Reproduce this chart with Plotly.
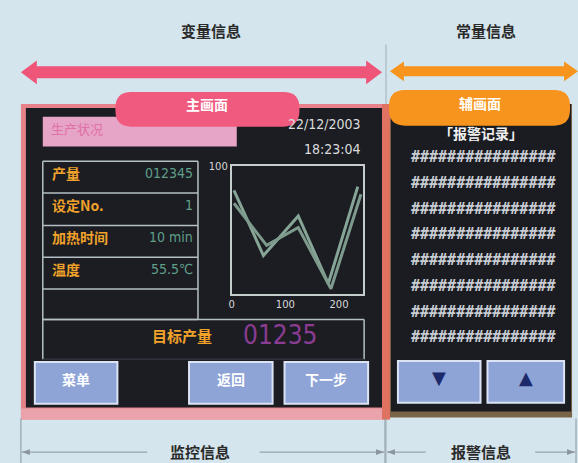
import plotly.graph_objects as go

# ---------------- data ----------------
trend_x_a = [4, 59, 124, 180, 235]
trend_y_a = [81, 30, 61, 8, 84]
trend_x_b = [4, 65, 124, 185, 241]
trend_y_b = [71, 38, 52, 4, 78]
trend_xticks = [0, 100, 200]
trend_yticks = [100]

field_labels = ["产量", "设定No.", "加热时间", "温度"]
field_values = ["012345", "1", "10 min", "55.5℃"]
target_label = "目标产量"
target_value = "01235"
main_buttons = ["菜单", "返回", "下一步"]
alarm_title = "「报警记录」"
alarm_rows = ["################"] * 8
alarm_buttons = ["▼", "▲"]
top_labels = ["变量信息", "常量信息"]
bottom_labels = ["监控信息", "报警信息"]
screen_labels = ["主画面", "辅画面"]
status_label = "生产状况"
date_text = "22/12/2003"
time_text = "18:23:04"

W, H = 578, 463
BG = "#d5e5ed"
FONT = "Noto Sans CJK SC"
TEXT_DY = -4

fig = go.Figure()
fig.add_trace(go.Scatter(x=[], y=[], xaxis="x", yaxis="y", showlegend=False))

# mini trend chart traces
fig.add_trace(go.Scatter(x=trend_x_a, y=trend_y_a, mode="lines", xaxis="x2", yaxis="y2",
                         line=dict(color="#86a596", width=3), showlegend=False, hoverinfo="skip"))
fig.add_trace(go.Scatter(x=trend_x_b, y=trend_y_b, mode="lines", xaxis="x2", yaxis="y2",
                         line=dict(color="#7d9a8c", width=3), showlegend=False, hoverinfo="skip"))

shapes = []
ann = []


def rect(x0, y0, x1, y1, fill, line_color=None, lw=0):
    shapes.append(dict(type="rect", xref="x", yref="y", x0=x0, y0=y0, x1=x1, y1=y1,
                       fillcolor=fill, line=dict(color=line_color or fill, width=lw),
                       layer="below"))


def line(x0, y0, x1, y1, color, lw=1.5):
    shapes.append(dict(type="line", xref="x", yref="y", x0=x0, y0=y0, x1=x1, y1=y1,
                       line=dict(color=color, width=lw), layer="below"))


def path(d, fill, line_color=None, lw=0):
    shapes.append(dict(type="path", xref="x", yref="y", path=d, fillcolor=fill,
                       line=dict(color=line_color or fill, width=lw), layer="below"))


def rrect(x0, y0, x1, y1, r):
    return (f"M{x0+r},{y0} L{x1-r},{y0} Q{x1},{y0} {x1},{y0+r} L{x1},{y1-r} "
            f"Q{x1},{y1} {x1-r},{y1} L{x0+r},{y1} Q{x0},{y1} {x0},{y1-r} "
            f"L{x0},{y0+r} Q{x0},{y0} {x0+r},{y0} Z")


def text(x, y, s, size, color, xanchor="center", bold=True, family=FONT):
    ann.append(dict(x=x, y=y + TEXT_DY, xref="x", yref="y", text=f"<b>{s}</b>" if bold else s,
                    showarrow=False, xanchor=xanchor, yanchor="middle",
                    font=dict(size=size, color=color, family=family)))


def darrow(x0, x1, yc, half, head_half, head_len, color):
    d = (f"M{x0},{yc} L{x0+head_len},{yc-head_half} L{x0+head_len},{yc-half} "
         f"L{x1-head_len},{yc-half} L{x1-head_len},{yc-head_half} L{x1},{yc} "
         f"L{x1-head_len},{yc+head_half} L{x1-head_len},{yc+half} L{x0+head_len},{yc+half} "
         f"L{x0+head_len},{yc+head_half} Z")
    path(d, color)


# divider line
line(385, 40, 385, 463, "#9fb0b8", 1)

# top arrows and labels
darrow(18, 381, 68, 6, 12, 16, "#ee5579")
darrow(389, 578, 67, 5, 10, 14, "#f7941d")
text(209, 30, top_labels[0], 15, "#2a2a2a")
text(486, 30, top_labels[1], 15, "#2a2a2a")

# left panel
rect(18, 100, 389, 419, "#e8828a")
rect(18, 408, 382, 419, "#eaa3ac")
rect(23, 104, 381, 407, "#1b1d23")
rect(381, 100, 389, 419, "#e07262")

# right panel
rect(389, 100, 572, 417, "#7a6448")
rect(390, 100, 571, 411, "#1a1c22")

# status bar
rect(40, 113, 235, 143, "#e6a4c6")
text(46, 129, status_label, 13, "#e070a8", xanchor="left", bold=False)

# pills
path(rrect(113, 88, 298, 123, 16), "#ef5a7e")
text(205, 104, screen_labels[0], 14, "#ffffff")
path(rrect(388, 86, 570, 122, 16), "#f7941d")
text(479, 103, screen_labels[1], 14, "#ffffff")

# date/time
text(362, 124, date_text, 14, "#dcdcdc", xanchor="right", bold=False, family="DejaVu Sans Condensed")
text(362, 150, time_text, 14, "#dcdcdc", xanchor="right", bold=False, family="DejaVu Sans Condensed")

# table
tl = "#b4c0c4"
row_edges = [158, 190, 223, 255, 287, 318]
for y in row_edges:
    line(40, y, 196, y, tl, 1.5)
line(40, 158, 40, 358, tl, 1.5)
line(196, 158, 196, 318, tl, 1.5)
line(40, 318, 363, 318, tl, 1.5)
line(363, 318, 363, 358, tl, 1.5)
line(40, 358, 363, 358, "#3a3e48", 1)
for i, (lab, val) in enumerate(zip(field_labels, field_values)):
    yc = (row_edges[i] + row_edges[i + 1]) / 2
    text(47, yc, lab, 14, "#f0a22a", xanchor="left")
    text(193, yc, val, 14, "#5f9f88", xanchor="right", bold=False, family="DejaVu Sans Condensed")

# target row
text(180, 338, target_label, 15, "#f0a22a")
text(278, 338, target_value, 26, "#8a3c92", bold=False, family="DejaVu Sans Condensed")

# main buttons
for (x0, x1), lab in zip([(32, 115), (187, 271), (283, 367)], main_buttons):
    rect(x0, 361, x1, 403, "#8ea3d6", "#dce4f4", 2)
    text((x0 + x1) / 2, 382, lab, 14, "#ffffff")

# alarm panel
text(480, 133, alarm_title, 14, "#f0f0f0")
for i, row in enumerate(alarm_rows):
    text(483, 158 + i * 26, row, 15, "#c8ccd2", bold=True, family="DejaVu Sans Mono")
for (x0, x1), lab in zip([(397, 480), (487, 564)], alarm_buttons):
    rect(x0, 360, x1, 402, "#8ea3d6", "#dce4f4", 2)
    text((x0 + x1) / 2, 381, lab, 18, "#1c2a6c", bold=False, family="DejaVu Sans")

# bottom dimension lines
dl = "#8a969c"
for x in [18, 384, 576]:
    line(x, 418, x, 463, dl, 1)
line(19, 452, 145, 452, dl, 1)
line(258, 452, 383, 452, dl, 1)
line(386, 452, 425, 452, dl, 1)
line(535, 452, 575, 452, dl, 1)
for x, s in [(19, 1), (383, -1), (386, 1), (575, -1)]:
    path(f"M{x},452 L{x+8*s},449 L{x+8*s},455 Z", dl)
text(198, 455, bottom_labels[0], 15, "#2a2a2a")
text(480, 455, bottom_labels[1], 15, "#2a2a2a")

fig.update_layout(
    width=W, height=H, margin=dict(l=0, r=0, t=0, b=0),
    paper_bgcolor=BG, plot_bgcolor="rgba(0,0,0,0)",
    shapes=shapes, annotations=ann, showlegend=False,
    xaxis=dict(range=[0, W], visible=False, domain=[0, 1], fixedrange=True),
    yaxis=dict(range=[H, 0], visible=False, domain=[0, 1], fixedrange=True),
    xaxis2=dict(domain=[230 / W, 362 / W], anchor="y2", range=[0, 245],
                tickvals=trend_xticks, showgrid=False, zeroline=False,
                showline=True, mirror=True, linecolor="#c5cdcd", linewidth=2,
                tickfont=dict(size=10, color="#d8d8d8", family="DejaVu Sans"), ticks=""),
    yaxis2=dict(domain=[(H - 292) / H, (H - 163) / H], anchor="x2", range=[0, 100],
                tickvals=trend_yticks, showgrid=False, zeroline=False,
                showline=True, mirror=True, linecolor="#c5cdcd", linewidth=2,
                tickfont=dict(size=10, color="#d8d8d8", family="DejaVu Sans"), ticks=""),
)

fig.write_html("out.html", config={"displayModeBar": False},
               post_script="document.body.style.margin='0px';document.body.style.padding='0px';document.body.style.background='" + BG + "';")
